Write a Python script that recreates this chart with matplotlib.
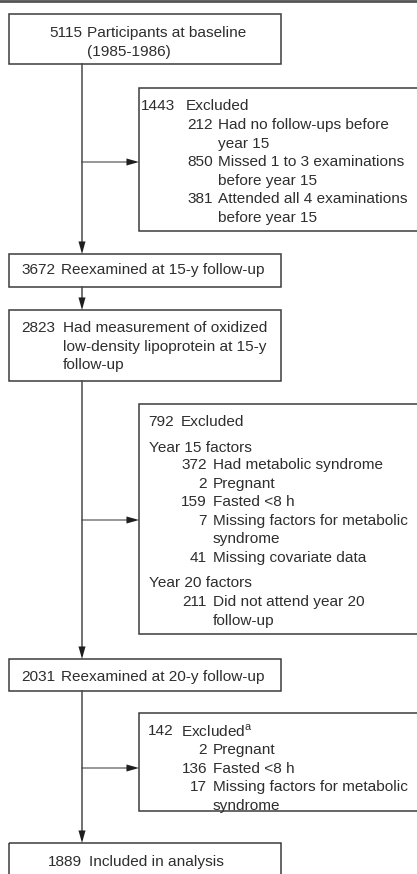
import matplotlib.pyplot as plt
from matplotlib.patches import Rectangle

plt.rcParams['font.family'] = ['Liberation Sans', 'DejaVu Sans']

# ---- Flow data ----
baseline_n = 5115
excl1_n = 1443
excl1_counts = [212, 850, 381]
excl1_labels = ["Had no follow-ups before\nyear 15",
                "Missed 1 to 3 examinations\nbefore year 15",
                "Attended all 4 examinations\nbefore year 15"]
y15_n = 3672
oxldl_n = 2823
excl2_n = 792
excl2_y15_counts = [372, 2, 159, 7, 41]
excl2_y15_labels = ["Had metabolic syndrome", "Pregnant", "Fasted <8 h",
                    "Missing factors for metabolic\nsyndrome", "Missing covariate data"]
excl2_y20_counts = [211]
excl2_y20_labels = ["Did not attend year 20\nfollow-up"]
y20_n = 2031
excl3_n = 142
excl3_counts = [2, 136, 17]
excl3_labels = ["Pregnant", "Fasted <8 h", "Missing factors for metabolic\nsyndrome"]
final_n = 1889

# ---- Layout (pixels) ----
W, H = 417, 874
fig = plt.figure(figsize=(W / 100, H / 100), dpi=100)
ax = fig.add_axes([0, 0, 1, 1])
ax.set_xlim(0, W)
ax.set_ylim(H, 0)
ax.axis('off')

FS = 11.1
LH = 18.6
TXT = '#2e2e2e'
EDGE = '#3c3c3c'
VLINE = '#4a4a4a'
HLINE = '#7a7a7a'
HEAD = '#1e1e1e'
MAIN_X = 82

def box(x0, y0, x1, y1):
    ax.add_patch(Rectangle((x0, y0), x1 - x0, y1 - y0, fill=False,
                           edgecolor=EDGE, linewidth=1.1, clip_on=False))

def entry(xr, xl, y, n, label):
    ax.text(xr, y, str(n), ha='right', va='center', fontsize=FS, color=TXT)
    for i, line in enumerate(label.split("\n")):
        ax.text(xl, y + i * LH, line, ha='left', va='center', fontsize=FS, color=TXT)
    return y + LH * len(label.split("\n"))

def head(x0, y0, x1, y1):
    ax.annotate("", xy=(x1, y1), xytext=(x0, y0),
                arrowprops=dict(arrowstyle='-|>,head_length=1.0,head_width=0.28',
                                color=HEAD, lw=0.01,
                                mutation_scale=9, shrinkA=0, shrinkB=0))

def down_arrow(y0, y1):
    ax.plot([MAIN_X, MAIN_X], [y0, y1 - 4], color=VLINE, lw=1.1)
    head(MAIN_X, y1 - 10, MAIN_X, y1)

def side_arrow(y, x1=139):
    ax.plot([MAIN_X, x1 - 4], [y, y], color=HLINE, lw=1.1)
    head(x1 - 12, y, x1, y)

# top rule
ax.plot([0, W], [1, 1], color='#555555', lw=2, clip_on=False)

# Box 1
box(9, 14, 281, 64)
entry(82, 87, 33, baseline_n, "Participants at baseline\n(1985-1986)")

# Box 2: first exclusion
box(139, 88, 418, 231)
entry(175, 186, 106, excl1_n, "Excluded")
y = 125
for n, lab in zip(excl1_counts, excl1_labels):
    y = entry(213, 218, y, n, lab)
side_arrow(162)

# Box 3
down_arrow(64, 254)
box(9, 254, 281, 287)
entry(55, 61, 270, y15_n, "Reexamined at 15-y follow-up")

# Box 4
down_arrow(287, 310)
box(9, 310, 281, 381)
entry(55, 63, 328, oxldl_n, "Had measurement of oxidized\nlow-density lipoprotein at 15-y\nfollow-up")

# Box 5: second exclusion
box(139, 404, 418, 634)
entry(174, 181, 422, excl2_n, "Excluded")
ax.text(149, 448, "Year 15 factors", ha='left', va='center', fontsize=FS, color=TXT)
y = 465
for n, lab in zip(excl2_y15_counts, excl2_y15_labels):
    y = entry(207, 213, y, n, lab)
ax.text(149, 583, "Year 20 factors", ha='left', va='center', fontsize=FS, color=TXT)
y = 602
for n, lab in zip(excl2_y20_counts, excl2_y20_labels):
    y = entry(207, 213, y, n, lab)
side_arrow(520)

# Box 6
down_arrow(381, 659)
box(9, 659, 281, 691)
entry(55, 61, 677, y20_n, "Reexamined at 20-y follow-up")

# Box 7: third exclusion
box(139, 713, 418, 811)
entry(174, 181, 731, excl3_n, r"Excluded$^{\mathregular{a}}$")
y = 750
for n, lab in zip(excl3_counts, excl3_labels):
    y = entry(207, 213, y, n, lab)
side_arrow(768)

# Box 8
down_arrow(691, 843)
box(9, 843, 281, 900)
entry(82, 89, 862, final_n, "Included in analysis")

fig.savefig("out.png", dpi=100)
